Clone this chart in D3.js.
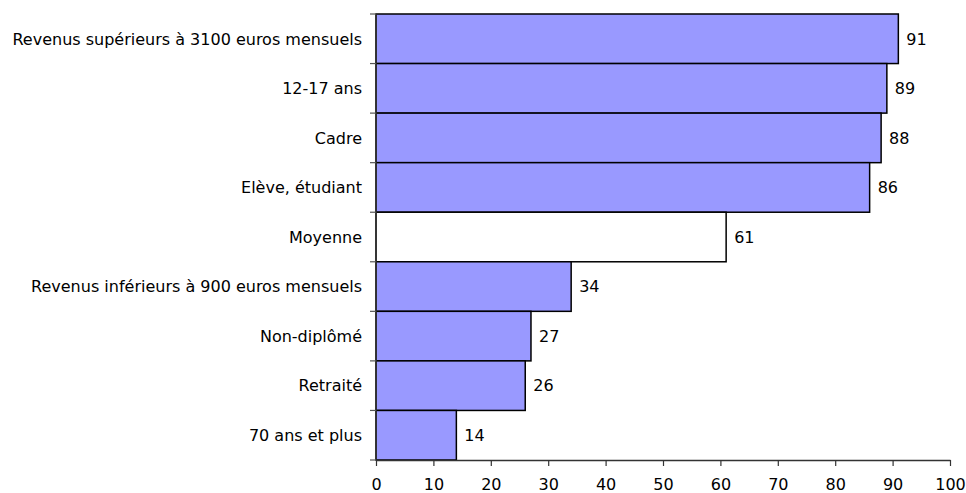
<!DOCTYPE html>
<html>
<head>
<meta charset="utf-8">
<script src="https://cdn.jsdelivr.net/npm/d3@7"></script>
<style>
  body { margin: 0; background: #fff; }
  text { font-family: "DejaVu Sans", Verdana, sans-serif; fill: #000; }
</style>
</head>
<body>
<svg id="chart" width="966" height="493"></svg>
<script>
var categories = ["Revenus supérieurs à 3100 euros mensuels", "12-17 ans", "Cadre", "Elève, étudiant",
                  "Moyenne", "Revenus inférieurs à 900 euros mensuels", "Non-diplômé", "Retraité", "70 ans et plus"];
var values = [91, 89, 88, 86, 61, 34, 27, 26, 14];
var xTicks = [0, 10, 20, 30, 40, 50, 60, 70, 80, 90, 100];

var svg = d3.select("#chart"),
    margin = {top: 14, right: 16, bottom: 33, left: 376};
var width  = 966 - margin.left - margin.right;
var height = 493 - margin.top - margin.bottom;
var canvas = svg.append("g").attr("transform", "translate(" + margin.left + "," + margin.top + ")");

var x = d3.scaleLinear().domain([0, 100]).range([0, width]);
var y = d3.scaleBand().domain(categories).range([0, height]).padding(0);

var data = categories.map(function(c, i) { return {name: c, value: values[i]}; });

// bars
canvas.selectAll("rect.bar")
    .data(data)
  .enter().append("rect")
    .attr("class", "bar")
    .attr("x", 0)
    .attr("y", function(d) { return y(d.name); })
    .attr("width", function(d) { return x(d.value); })
    .attr("height", y.bandwidth())
    .style("fill", function(d) { return d.name == "Moyenne" ? "#ffffff" : "#9999ff"; })
    .style("stroke", "#000")
    .style("stroke-width", 1.5);

// value labels
canvas.selectAll("text.val")
    .data(data)
  .enter().append("text")
    .attr("class", "val")
    .attr("x", function(d) { return x(d.value) + 8; })
    .attr("y", function(d) { return y(d.name) + y.bandwidth() / 2; })
    .attr("dy", "0.36em")
    .style("font-size", "16px")
    .text(function(d) { return d.value; });

// y axis: ticks on band boundaries
var yAxisG = canvas.append("g").attr("class", "y axis");
yAxisG.append("line")
    .attr("x1", 0).attr("x2", 0).attr("y1", 0).attr("y2", height)
    .style("stroke", "#333").style("stroke-width", 1.5);
yAxisG.selectAll("line.tick")
    .data(categories.concat([null]))
  .enter().append("line")
    .attr("class", "tick")
    .attr("x1", -6).attr("x2", 0)
    .attr("y1", function(d, i) { return i * y.step(); })
    .attr("y2", function(d, i) { return i * y.step(); })
    .style("stroke", "#555").style("stroke-width", 1.2);
yAxisG.selectAll("text")
    .data(categories)
  .enter().append("text")
    .attr("x", -14)
    .attr("y", function(d) { return y(d) + y.bandwidth() / 2; })
    .attr("dy", "0.36em")
    .attr("text-anchor", "end")
    .style("font-size", "16px")
    .text(function(d) { return d; });

// x axis
var xAxis = d3.axisBottom(x).tickValues(xTicks).tickSize(6).tickSizeOuter(0);
var xAxisG = canvas.append("g")
    .attr("class", "x axis")
    .attr("transform", "translate(0," + height + ")")
    .call(xAxis);
xAxisG.select(".domain").style("stroke", "#333").style("stroke-width", 1.5);
xAxisG.selectAll(".tick line").style("stroke", "#333").style("stroke-width", 1.2);
xAxisG.selectAll(".tick text")
    .attr("y", 19)
    .style("font-size", "16px")
    .style("font-family", "\"DejaVu Sans\", Verdana, sans-serif")
    .style("fill", "#000");
</script>
</body>
</html>
